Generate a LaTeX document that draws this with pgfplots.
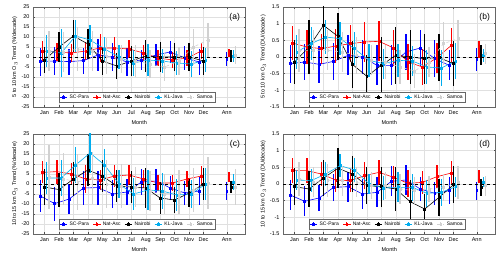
\documentclass[border=0pt]{standalone}
\usepackage{fontspec}
\setmainfont{Liberation Sans}
\usepackage{pgfplots}
\usepackage{pgfplotstable}
\pgfplotsset{compat=1.18}

\pgfplotstableread{
m sy se ry re ky ke cy ce gy ge
1 -2.3 7 3 5 -1.5 6.5 3 8 3 10
2 -2 7 2.5 4.5 5 7.5 2 12 2.5 10
3 -2.3 6.5 2 4.5 10.5 8 10.5 8 4 11
4 -1.8 6.5 3 4.5 6.5 7.5 8.5 7.5 3 10
5 1 8 4.5 7 -2 7 4 6 0.5 9
6 0 7 4.5 5.5 -4.5 6.5 0 6 -1 7
7 -2.5 7 4 4.5 -2 7.5 -3 6.5 -2 8
8 -1.5 5 2 4 0.5 8 -1.5 8 -3.5 7
9 1 5.5 -0.5 4 0 7.5 -2 6 -5 7
10 2.5 5.5 -1.5 4 0 7 -3 6 -2 7
11 -0.5 6 -0.5 4 0 7 -3.5 6.5 5 9
12 -2.5 6.5 3 4 -2 7 -1.5 6 8.5 8.5
12.9 nan nan nan nan nan nan nan nan nan nan
13.9 -1 3.5 2 2 0.5 3 0.5 3 1 4.5
}\tabA

\pgfplotstableread{
m sy se ry re ky ke cy ce gy ge
1 -0.2 0.57 0.42 0.5 -0.15 0.65 0.15 0.5 0.2 0.65
2 -0.15 0.55 0.3 0.5 0.3 0.8 0.4 0.5 0.2 0.6
3 -0.22 0.55 0.25 0.45 0.95 0.7 0.6 0.5 0.2 0.6
4 -0.13 0.55 0.33 0.5 0.62 0.7 0.55 0.5 0.15 0.6
5 0.05 0.6 0.4 0.55 -0.22 0.7 0.25 0.5 0.05 0.55
6 0 0.5 0.45 0.6 -0.58 0.65 -0.1 0.5 -0.1 0.45
7 -0.25 0.6 0.47 0.6 -0.25 0.85 -0.2 0.45 -0.15 0.5
8 -0.25 0.6 0.27 0.55 0.05 0.85 -0.1 0.5 -0.3 0.5
9 0.15 0.55 -0.15 0.55 0 0.8 -0.12 0.45 -0.42 0.5
10 0.27 0.55 -0.3 0.55 -0.05 0.75 -0.3 0.5 -0.15 0.45
11 -0.05 0.55 -0.02 0.45 -0.02 0.7 -0.33 0.55 0.4 0.65
12 -0.25 0.45 0.35 0.52 -0.2 0.68 -0.12 0.55 0.55 0.55
12.9 nan nan nan nan nan nan nan nan nan nan
13.9 -0.08 0.35 0.22 0.25 0.05 0.3 0.05 0.2 0.1 0.3
}\tabB

\pgfplotstableread{
m sy se ry re ky ke cy ce gy ge
1 -6 8 5.8 5.5 -1.5 9 3 8 3.5 16
2 -9.8 8.5 6.2 6 -2.8 8.5 3 9 2.5 13
3 -7.5 7.5 5 5.5 2.5 8.5 9.5 9 1 14
4 -2 8.5 2.5 7 7 8 15.5 10 3 13
5 -1.8 8.5 2 5 4 8 9.5 8 0 12
6 -5 7 4 5.5 -1 8 0 7 -1 11
7 -4 6.5 4.5 5 -1.5 8 -5 8 -1.5 10
8 1 6.5 2.5 4.5 -2 10 -3 10 -3.5 10
9 1.5 6 0.5 4 -7 8 -3.5 9 -5 10
10 -2 6 0.5 4 -8 6.5 -5.5 8 -4 11
11 -4.5 6 2.5 4 -4.5 7 -5 7 -3 11
12 -3.5 7 4 5 0 8 0 8 0.5 13
12.9 nan nan nan nan nan nan nan nan nan nan
13.9 -3.5 4.5 3.5 2.5 -1.5 3 1 4 -1.5 9
}\tabC

\pgfplotstableread{
m sy se ry re ky ke cy ce gy ge
1 -0.33 0.45 0.4 0.37 -0.08 0.55 0.12 0.3 0.15 0.5
2 -0.52 0.45 0.4 0.37 -0.15 0.55 0.1 0.35 0.05 0.45
3 -0.42 0.4 0.3 0.37 0.18 0.55 0.3 0.35 0.1 0.5
4 -0.1 0.4 0.12 0.35 0.47 0.6 0.55 0.35 0.1 0.45
5 -0.08 0.45 0.1 0.35 0.3 0.55 0.42 0.35 0.05 0.45
6 -0.3 0.45 0.25 0.4 -0.05 0.55 0 0.3 -0.05 0.4
7 -0.25 0.45 0.35 0.37 -0.08 0.6 -0.12 0.35 -0.05 0.4
8 0.08 0.45 0.2 0.35 -0.15 0.65 -0.1 0.45 -0.15 0.45
9 0.12 0.45 0.02 0.4 -0.53 0.65 -0.1 0.4 -0.2 0.4
10 -0.15 0.35 0.05 0.35 -0.75 0.45 -0.28 0.4 -0.15 0.4
11 -0.28 0.35 0.22 0.35 -0.4 0.55 -0.25 0.4 -0.1 0.4
12 -0.2 0.4 0.33 0.37 -0.02 0.55 -0.08 0.3 0.05 0.5
12.9 nan nan nan nan nan nan nan nan nan nan
13.9 -0.2 0.27 0.23 0.2 -0.1 0.25 0.05 0.15 -0.05 0.3
}\tabD

\definecolor{samoa}{gray}{0.82}
\newcommand{\fs}{\fontsize{5.5}{6.5}\selectfont}

\pgfplotsset{
  trendax/.style={width=212.5pt,height=100pt,scale only axis,anchor=south west,
    xmin=0.2,xmax=14.9,
    xtick={1,2,3,4,5,6,7,8,9,10,11,12,13.6},
    xticklabels={Jan,Feb,Mar,Apr,May,Jun,Jul,Aug,Sep,Oct,Nov,Dec,Ann},
    grid=major, major grid style={black!12, line width=0.4pt},
    tick align=inside, major tick length=2pt,
    tick style={black!70, line width=0.4pt},
    axis line style={line width=0.4pt, black!60},
    ticklabel style={font=\fs}, label style={font=\fs},
    xlabel={Month}, xlabel style={yshift=2pt}, ylabel style={yshift=-3pt},
    /pgf/number format/assume math mode=true,
    unbounded coords=jump,
    legend columns=5,
    legend style={at={(0.49,0.045)}, anchor=south, font=\fontsize{5}{5.5}\selectfont,
      inner sep=0.6pt, draw=black!60, line width=0.3pt,
      /tikz/every even column/.append style={column sep=2pt}},
    legend image code/.code={
      \draw[##1,mark=none] (0cm,0cm) -- (0.26cm,0cm);
      \draw[##1,mark=none,solid,line width=0.9pt] (0.13cm,-0.07cm) -- (0.13cm,0.07cm);
      \draw[##1,solid] plot coordinates {(0.13cm,0cm)};
    },
  },
  sp/.style={color=#1, mark=square*, mark size=0.9pt, line width=0.6pt, mark options={solid},
    error bars/.cd, y dir=both, y explicit, error mark=none,
    error bar style={line width=1.3pt, solid}},
}

\newcommand{\series}[1]{%
  \addplot[sp=blue] table[x expr=\thisrow{m}-0.3, y=sy, y error=se]{#1};
  \addlegendentry{SC-Para}
  \addplot[sp=red] table[x expr=\thisrow{m}-0.15, y=ry, y error=re]{#1};
  \addlegendentry{Nat-Asc}
  \addplot[sp=black] table[x expr=\thisrow{m}, y=ky, y error=ke]{#1};
  \addlegendentry{Nairobi}
  \addplot[sp=cyan] table[x expr=\thisrow{m}+0.15, y=cy, y error=ce]{#1};
  \addlegendentry{KL-Java}
  \addplot[dashed, sp=samoa] table[x expr=\thisrow{m}+0.3, y=gy, y error=ge]{#1};
  \addlegendentry{Samoa}
  \addplot[black, dashed, line width=0.8pt, forget plot] coordinates {(0.2,0) (14.9,0)};
}

\begin{document}
\begin{tikzpicture}
\begin{axis}[trendax, at={(33pt,149pt)}, ymin=-25, ymax=25, ytick={-25,-20,...,25},
  ylabel={5 to 10 km O$_3$ Trend (\%/decade)}]
\series{\tabA}
\node[anchor=north east, font=\fontsize{8.5}{9}\selectfont] at (rel axis cs:0.99,0.97) {(a)};
\end{axis}
\begin{axis}[trendax, at={(283pt,149pt)}, ymin=-1.5, ymax=1.5, ytick={-1.5,-1,...,1.5},
  ylabel={5 to 10 km O$_3$ Trend (DU/decade)}]
\series{\tabB}
\node[anchor=north east, font=\fontsize{8.5}{9}\selectfont] at (rel axis cs:0.99,0.97) {(b)};
\end{axis}
\begin{axis}[trendax, at={(33pt,22pt)}, ymin=-25, ymax=25, ytick={-25,-20,...,25},
  ylabel={10 to 15 km O$_3$ Trend (\%/decade)}]
\series{\tabC}
\node[anchor=north east, font=\fontsize{8.5}{9}\selectfont] at (rel axis cs:0.99,0.97) {(c)};
\end{axis}
\begin{axis}[trendax, at={(283pt,22pt)}, ymin=-1.5, ymax=1.5, ytick={-1.5,-1,...,1.5},
  ylabel={10 to 15 km O$_3$ Trend (DU/decade)}]
\series{\tabD}
\node[anchor=north east, font=\fontsize{8.5}{9}\selectfont] at (rel axis cs:0.99,0.97) {(d)};
\end{axis}
\pgfresetboundingbox
\path[use as bounding box] (0pt,0pt) rectangle (500pt,256pt);
\end{tikzpicture}
\end{document}
